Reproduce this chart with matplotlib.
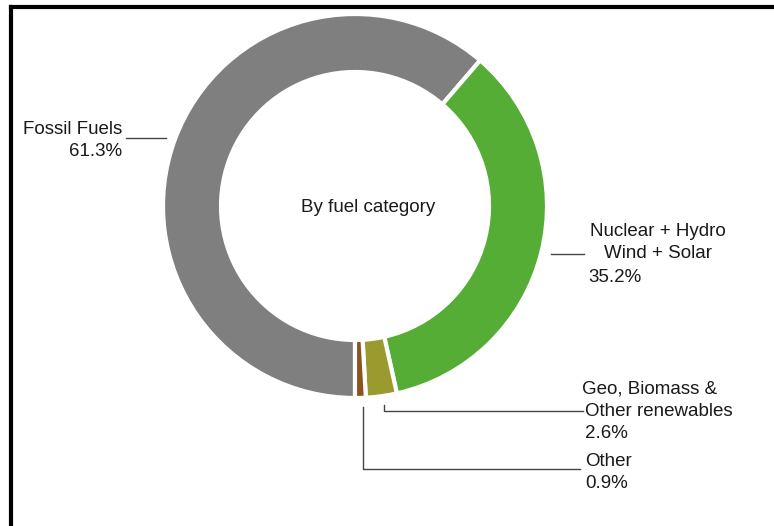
import matplotlib.pyplot as plt
from matplotlib.lines import Line2D

plt.rcParams['font.family'] = ['Liberation Sans', 'DejaVu Sans']

categories = ['Fossil Fuels', 'Nuclear + Hydro\nWind + Solar', 'Geo, Biomass &\nOther renewables', 'Other']
shares = [61.3, 35.2, 2.6, 0.9]
colors = ['#7f7f7f', '#55ad35', '#9b9a2e', '#8c5220']

W, H = 774, 526
fig = plt.figure(figsize=(W / 100, H / 100), dpi=100)
ax = fig.add_axes([0, 0, 1, 1])

# donut, clockwise from the bottom
ax.pie(shares, colors=colors, startangle=-90, counterclock=False,
       radius=192, center=(355, H - 206),
       wedgeprops=dict(width=58, edgecolor='white', linewidth=3))
ax.set_xlim(0, W)
ax.set_ylim(0, H)
ax.set_aspect('equal')
ax.axis('off')

fs = 13.5
tc = '#1a1a1a'
lc = '#444444'

def y(p):
    return H - p

ax.text(368, y(208), 'By fuel category', ha='center', va='center', fontsize=fs, color=tc)

# Fossil fuels
ax.text(122, y(129), categories[0], ha='right', va='center', fontsize=fs, color=tc)
ax.text(122, y(151), f'{shares[0]}%', ha='right', va='center', fontsize=fs, color=tc)
ax.plot([126, 166], [y(138), y(138)], color=lc, lw=1)

# Nuclear + Hydro / Wind + Solar
n1, n2 = categories[1].split('\n')
ax.text(658, y(232), n1, ha='center', va='center', fontsize=fs, color=tc)
ax.text(658, y(254), n2, ha='center', va='center', fontsize=fs, color=tc)
ax.text(588, y(277), f'{shares[1]}%', ha='left', va='center', fontsize=fs, color=tc)
ax.plot([551, 584], [y(254), y(254)], color=lc, lw=1)

# Geo, biomass & other renewables
g1, g2 = categories[2].split('\n')
ax.text(650, y(389), g1, ha='center', va='center', fontsize=fs, color=tc)
ax.text(585, y(411), g2, ha='left', va='center', fontsize=fs, color=tc)
ax.text(585, y(434), f'{shares[2]}%', ha='left', va='center', fontsize=fs, color=tc)
ax.plot([384, 384, 583], [y(405), y(411), y(411)], color=lc, lw=1)

# Other
ax.text(585, y(461), categories[3], ha='left', va='center', fontsize=fs, color=tc)
ax.text(585, y(484), f'{shares[3]}%', ha='left', va='center', fontsize=fs, color=tc)
ax.plot([363, 363, 580], [y(407), y(469), y(469)], color=lc, lw=1)

# frame (top and left edges only visible)
fig.add_artist(Line2D([11 / W, 11 / W], [0, 1 - 7 / H], color='black', lw=3,
                      transform=fig.transFigure, solid_capstyle='projecting'))
fig.add_artist(Line2D([11 / W, 1], [1 - 7 / H, 1 - 7 / H], color='black', lw=3,
                      transform=fig.transFigure, solid_capstyle='projecting'))

fig.savefig('out.png', dpi=100, facecolor='white')
